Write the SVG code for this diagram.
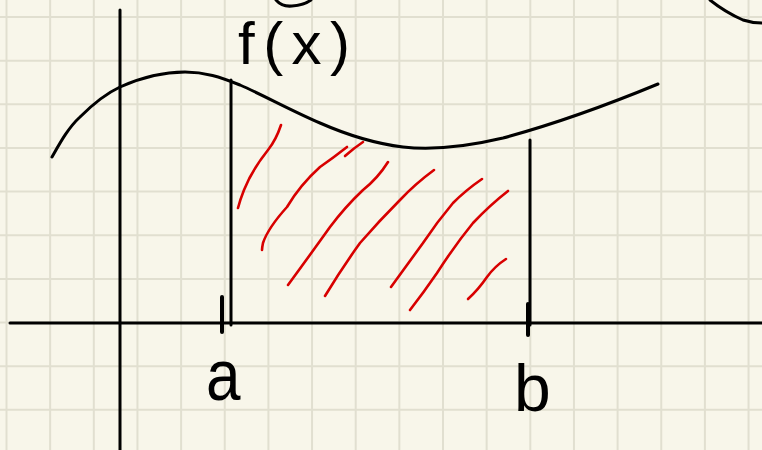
<svg xmlns="http://www.w3.org/2000/svg" width="762" height="450" viewBox="0 0 762 450">
<style>
.grid{stroke:#e1dfd0;stroke-width:2;fill:none}
.ink{stroke:#000;stroke-width:3;fill:none;stroke-linecap:round;stroke-linejoin:round}
.tick{stroke:#000;stroke-width:4;fill:none;stroke-linecap:round}
.hatch{stroke:#d80000;stroke-width:2.6;fill:none;stroke-linecap:round;stroke-linejoin:round}
.lbl{font-family:"Liberation Sans","DejaVu Sans",sans-serif;fill:#000}
</style>
<rect width="762" height="450" fill="#f8f6ea"/>
<g id="grid">
<path class="grid" d="M6.5,0V450M50.15,0V450M93.8,0V450M137.45,0V450M181.1,0V450M224.75,0V450M268.4,0V450M312.05,0V450M355.7,0V450M399.35,0V450M443,0V450M486.65,0V450M530.3,0V450M573.95,0V450M617.6,0V450M661.25,0V450M704.9,0V450M748.55,0V450"/>
<path class="grid" d="M0,17H762M0,60.65H762M0,104.3H762M0,147.95H762M0,191.6H762M0,235.25H762M0,278.9H762M0,322.55H762M0,366.2H762M0,409.85H762"/>
</g>
<g id="hatching">
<path class="hatch" d="M281,125 Q276,140 268,150 Q252,170 244,190 Q240,200 238,208"/>
<path class="hatch" d="M347,147 Q333,158 320,167 Q300,185 287,207 Q268,228 263,243 Q262,248 262,250"/>
<path class="hatch" d="M345,156 Q354,148 363,142"/>
<path class="hatch" d="M388,162 Q378,178 363,190 Q345,207 330,227 Q310,255 288,285"/>
<path class="hatch" d="M434,170 Q415,184 400,200 Q380,220 360,243 Q342,268 325,296"/>
<path class="hatch" d="M482,179 Q466,190 453,203 Q437,222 423,243 Q407,265 391,287"/>
<path class="hatch" d="M508,191 Q490,205 473,223 Q455,245 437,273 Q424,292 410,310"/>
<path class="hatch" d="M506,259 Q495,266 487,277 Q478,290 468,299"/>
</g>
<g id="axes">
<path class="ink" d="M120,10V450"/>
<path class="ink" d="M10,323H762"/>
</g>
<g id="curve">
<path class="ink" d="M52,157 C60,143 68,128 80,117 C92,105 105,94 120,87 C140,78 160,72 185,72 C205,72 220,77 240,85 C265,96 290,110 320,123 C345,134 370,143 403,147 C430,150 465,147 503,138 C540,128 600,108 658,84"/>
</g>
<g id="bounds">
<path class="ink" d="M231,80V325"/>
<path class="ink" d="M530,140V325"/>
<path class="tick" d="M222,297V332"/>
<path class="tick" d="M528,304V335"/>
</g>
<g id="fragments">
<path class="ink" d="M276,0 Q282,7 292,6 Q304,5 311,0"/>
<path class="ink" d="M710,0 Q725,12 743,20 Q752,23 762,23"/>
</g>
<g id="labels">
<text class="lbl" x="238" y="64" font-size="60" textLength="112" lengthAdjust="spacing">f(x)</text>
<text class="lbl" x="206" y="400" font-size="62" transform="translate(0,-70) scale(1,1.175)">a</text>
<text class="lbl" x="514" y="411" font-size="66">b</text>
</g>
</svg>
